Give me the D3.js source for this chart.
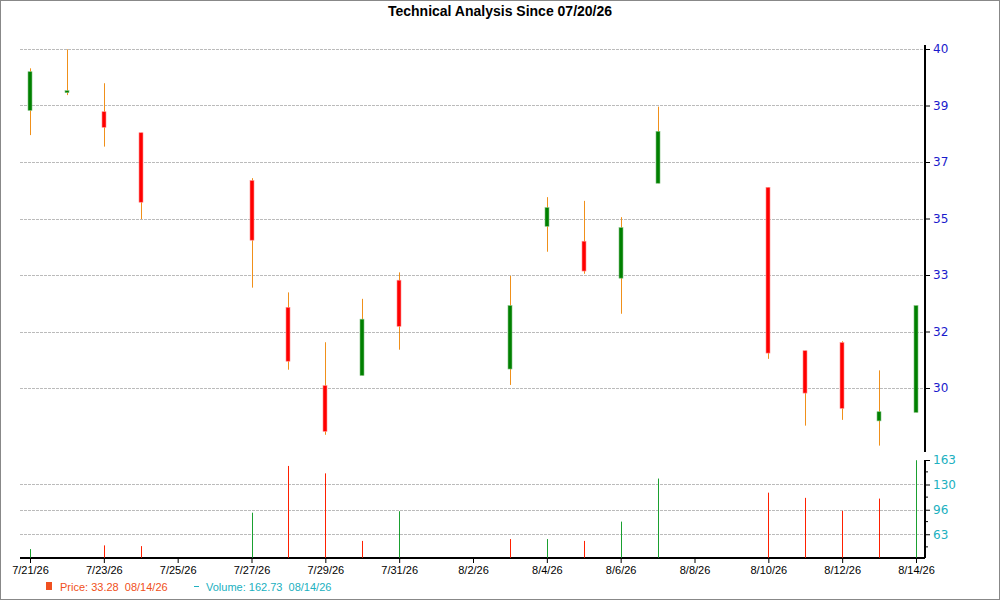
<!DOCTYPE html>
<html>
<head>
<meta charset="utf-8">
<script src="https://cdn.jsdelivr.net/npm/d3@7"></script>
<style>
  body { margin: 0; background: #fff; }
  svg { font-family: "Liberation Sans", Arial, sans-serif; }
  .legend { white-space: pre; }
</style>
</head>
<body>
<svg id="chart" width="1000" height="600"></svg>
<script>
// trading days
var dates = ["7/21/26","7/22/26","7/23/26","7/24/26","7/27/26","7/28/26","7/29/26","7/30/26","7/31/26",
  "8/3/26","8/4/26","8/5/26","8/6/26","8/7/26","8/10/26","8/11/26","8/12/26","8/13/26","8/14/26"];
var opens  = [38.19,38.72,38.15,37.53,36.12,32.38,30.07,30.37,33.18,30.56,34.77,34.33,33.24,36.04,35.92,31.10,31.34,29.03,29.28];
var closes = [39.33,38.77,37.69,35.48,34.36,30.79,28.72,32.03,31.82,32.43,35.32,33.45,34.73,37.57,31.03,29.85,29.40,29.30,32.43];
var highs  = [39.43,39.99,38.99,37.53,36.19,32.82,31.35,32.63,33.41,33.31,35.63,35.52,35.04,38.30,35.92,31.10,31.38,30.52,32.43];
var lows   = [37.46,38.64,37.12,34.98,32.96,30.54,28.62,30.37,31.13,30.09,34.02,33.37,32.19,36.04,30.86,28.89,29.06,28.30,29.28];
var volumes = [43,null,48,47,92,155,145,54,94,56.5,56.5,54,80,138,119,112,94.5,111,162.7];
var volUp = [1,0,0,0,1,0,0,0,1,0,1,0,1,1,0,0,0,0,1];
var xTickLabels = ["7/21/26","7/23/26","7/25/26","7/27/26","7/29/26","7/31/26","8/2/26","8/4/26","8/6/26","8/8/26","8/10/26","8/12/26","8/14/26"];
var priceTickLabels = ["40","39","37","35","33","32","30"];
var volTickValues = [163,130,96,63];

var svg = d3.select("#chart");
var parse = d3.timeParse("%m/%d/%y");
var L = 20, R = 925;

svg.append("rect").attr("x",0.5).attr("y",0.5).attr("width",999).attr("height",599)
  .attr("fill","none").attr("stroke","#888");

svg.append("text").attr("x",500).attr("y",16).attr("text-anchor","middle")
  .attr("font-size",14).attr("font-weight","bold").text("Technical Analysis Since 07/20/26");

var x = d3.scaleTime().domain([parse("7/21/26"), parse("8/14/26")]).range([30, 916]);
var y = d3.scaleLinear().domain([30, 40]).range([388, 49]);
var yv = d3.scaleLinear().domain([31.4, 163]).range([557.7, 460]);

// price grid
var priceTicks = priceTickLabels.map(function (d, i) { return 40 - i * 10 / 6; });
svg.append("g").selectAll("line").data(priceTicks).join("line")
  .attr("x1", L).attr("x2", R).attr("y1", function (d) { return Math.round(y(d)) + 0.5; })
  .attr("y2", function (d) { return Math.round(y(d)) + 0.5; })
  .attr("stroke", "#bbb").attr("stroke-dasharray", "3,1");

svg.append("g").attr("transform", "translate(" + R + ",0)")
  .call(d3.axisRight(y).tickValues(priceTicks).tickSize(5)
    .tickFormat(function (d, i) { return priceTickLabels[i]; }))
  .call(function (g) {
    g.select(".domain").attr("d", "M0,45V452").attr("stroke", "#000").attr("stroke-width", 2);
    g.selectAll("text").attr("fill", "#1a1acc").attr("font-size", 12).attr("font-family", "DejaVu Sans, sans-serif");
  });

// volume grid
svg.append("g").selectAll("line").data(volTickValues.slice(1)).join("line")
  .attr("x1", L).attr("x2", R).attr("y1", function (d) { return Math.round(yv(d)) + 0.5; })
  .attr("y2", function (d) { return Math.round(yv(d)) + 0.5; })
  .attr("stroke", "#bbb").attr("stroke-dasharray", "3,1");

svg.append("g").attr("transform", "translate(" + R + ",0)")
  .call(d3.axisRight(yv).tickValues(volTickValues).tickSize(5).tickFormat(d3.format("d")))
  .call(function (g) {
    g.select(".domain").attr("d", "M0,460V558").attr("stroke", "#000").attr("stroke-width", 2);
    g.selectAll("text").attr("fill", "#20b0c0").attr("font-size", 12).attr("font-family", "DejaVu Sans, sans-serif");
  });
svg.append("g").selectAll("line").data([147, 113, 80, 46]).join("line")
  .attr("x1", R).attr("x2", R + 3).attr("y1", yv).attr("y2", yv).attr("stroke", "#000");

// date axis
svg.append("g").attr("transform", "translate(0,558)")
  .call(d3.axisBottom(x).tickValues(xTickLabels.map(parse)).tickSize(5).tickFormat(d3.timeFormat("%-m/%-d/%y")))
  .call(function (g) {
    g.select(".domain").attr("d", "M" + L + ",0H" + R).attr("stroke", "#000").attr("stroke-width", 2);
    g.selectAll("text").attr("font-size", 11).attr("fill", "#000").attr("font-family", "Liberation Sans, Arial, sans-serif");
  });

// volume bars
var data = dates.map(function (d, i) {
  return { date: parse(d), o: opens[i], c: closes[i], h: highs[i], l: lows[i], v: volumes[i], up: volUp[i] };
});
svg.append("g").selectAll("line").data(data.filter(function (d) { return d.v != null; })).join("line")
  .attr("x1", function (d) { return Math.round(x(d.date)) + 0.5; })
  .attr("x2", function (d) { return Math.round(x(d.date)) + 0.5; })
  .attr("y1", yv(31.4)).attr("y2", function (d) { return yv(d.v); })
  .attr("stroke", function (d) { return d.up ? "#1aa030" : "#ff2000"; });

// candles
var c = svg.append("g").selectAll("g").data(data).join("g");
c.append("line")
  .attr("x1", function (d) { return Math.round(x(d.date)) + 0.5; })
  .attr("x2", function (d) { return Math.round(x(d.date)) + 0.5; })
  .attr("y1", function (d) { return y(d.h); }).attr("y2", function (d) { return y(d.l); })
  .attr("stroke", "#f0901a");
c.append("rect")
  .attr("x", function (d) { return Math.round(x(d.date)) - 2; })
  .attr("width", 4)
  .attr("y", function (d) { return y(Math.max(d.o, d.c)); })
  .attr("height", function (d) { return Math.max(2, Math.abs(y(d.o) - y(d.c))); })
  .attr("fill", function (d) { return d.c >= d.o ? "#008000" : "#ff0000"; })
  .attr("stroke", function (d) { return d.c >= d.o ? "#80c080" : "#ff9090"; })
  .attr("stroke-width", 0.6);

// legend
svg.append("rect").attr("x", 46).attr("y", 582).attr("width", 6).attr("height", 8).attr("fill", "#f05020");
svg.append("text").attr("class", "legend").attr("x", 60).attr("y", 591).attr("font-size", 11).attr("fill", "#f05020")
  .text("Price: 33.28  08/14/26");
svg.append("line").attr("x1", 194).attr("x2", 199).attr("y1", 586.5).attr("y2", 586.5).attr("stroke", "#20b0c0");
svg.append("text").attr("class", "legend").attr("x", 206).attr("y", 591).attr("font-size", 11).attr("fill", "#20b0c0")
  .text("Volume: 162.73  08/14/26");
</script>
</body>
</html>
